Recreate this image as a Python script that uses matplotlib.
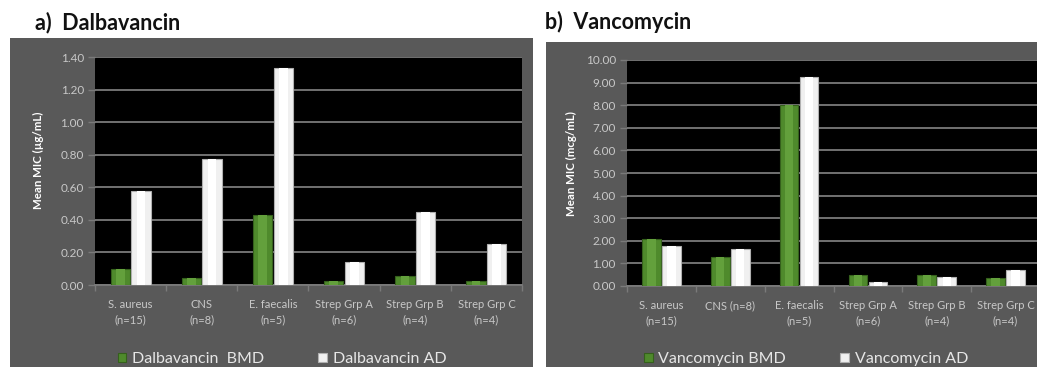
import numpy as np
import matplotlib.pyplot as plt
from matplotlib.patches import Rectangle

# ── data ──────────────────────────────────────────────────────────
dal_labels = ["S. aureus\n(n=15)", "CNS\n(n=8)", "E. faecalis\n(n=5)",
              "Strep Grp A\n(n=6)", "Strep Grp B\n(n=4)", "Strep Grp C\n(n=4)"]
dal_bmd = [0.10, 0.045, 0.43, 0.025, 0.055, 0.025]
dal_ad = [0.58, 0.775, 1.33, 0.14, 0.45, 0.25]
dal_yticks = [0.0, 0.2, 0.4, 0.6, 0.8, 1.0, 1.2, 1.4]

van_labels = ["S. aureus\n(n=15)", "CNS (n=8)", "E. faecalis\n(n=5)",
              "Strep Grp A\n(n=6)", "Strep Grp B\n(n=4)", "Strep Grp C\n(n=4)"]
van_bmd = [2.10, 1.27, 8.02, 0.47, 0.47, 0.35]
van_ad = [1.78, 1.65, 9.25, 0.18, 0.40, 0.69]
van_yticks = [0, 1, 2, 3, 4, 5, 6, 7, 8, 9, 10]

# ── style ─────────────────────────────────────────────────────────
PANEL = "#595959"
PLOT = "#000000"
GRID = "#7a7a7a"
TICK = "#c8c8c8"
GREEN = "#4f8a2c"
GREEN_EDGE = "#35601c"
WHITE = "#f0f0f0"
WHITE_EDGE = "#b0b0b0"

plt.rcParams["font.family"] = ["Lato", "DejaVu Sans"]

W, H = 1037, 377
fig = plt.figure(figsize=(W / 100, H / 100), dpi=100, facecolor="white")


def px_rect(x0, y0, x1, y1):
    """pixel box (top-left origin) -> figure fraction rect"""
    return [x0 / W, 1 - y1 / H, (x1 - x0) / W, (y1 - y0) / H]


def panel(bg_box, ax_box, title, title_xy, labels, bmd, ad, yticks,
          ylabel, ylabel_xy, names, leg_xy, colsp):
    # grey card behind the chart
    r = px_rect(*bg_box)
    fig.patches.append(Rectangle((r[0], r[1]), r[2], r[3], transform=fig.transFigure,
                                 facecolor=PANEL, edgecolor="none", zorder=-1))
    fig.text(title_xy[0] / W, 1 - title_xy[1] / H, title, fontsize=15.5,
             weight="bold", color="#111111", ha="left", va="center")

    ax = fig.add_axes(px_rect(*ax_box))
    ax.set_facecolor(PLOT)
    x = np.arange(len(labels))
    bw = 0.27
    b1 = ax.bar(x - bw / 2 - 0.01, bmd, bw, color=GREEN, edgecolor=GREEN_EDGE,
                linewidth=0.8, zorder=3, label=names[0])
    b2 = ax.bar(x + bw / 2 + 0.01, ad, bw, color=WHITE, edgecolor=WHITE_EDGE,
                linewidth=0.8, zorder=3, label=names[1])
    # lighter centre strip for the bevelled look
    ax.bar(x - bw / 2 - 0.01, bmd, bw * 0.45, color="#63a03c", linewidth=0, zorder=4)
    ax.bar(x + bw / 2 + 0.01, ad, bw * 0.45, color="#ffffff", linewidth=0, zorder=4)

    ax.set_xlim(-0.5, len(labels) - 0.5)
    ax.set_ylim(yticks[0], yticks[-1])
    ax.set_yticks(yticks)
    ax.set_yticklabels([f"{v:.2f}" for v in yticks])
    ax.yaxis.grid(True, color=GRID, linewidth=1.3, zorder=1)
    ax.set_axisbelow(True)

    ax.set_xticks(x)
    ax.set_xticklabels(labels, fontsize=8, color=TICK, linespacing=1.45)
    ax.set_xticks(np.arange(len(labels) + 1) - 0.5, minor=True)
    ax.tick_params(axis="x", which="major", length=0, pad=10)
    ax.tick_params(axis="x", which="minor", length=4, color=GRID, width=1)
    ax.tick_params(axis="y", labelsize=8.5, labelcolor=TICK, color=GRID,
                   length=5, width=1, pad=3)
    for s in ["top", "right", "left"]:
        ax.spines[s].set_visible(False)
    ax.spines["bottom"].set_color(GRID)
    ax.spines["bottom"].set_linewidth(1.3)

    fig.text(ylabel_xy[0] / W, 1 - ylabel_xy[1] / H, ylabel,
             rotation=90, fontsize=8.3, weight="bold", color="white",
             ha="center", va="center")

    ax.legend(handles=[b1, b2], loc="center", ncol=2, frameon=False,
              bbox_to_anchor=(leg_xy[0] / W, 1 - leg_xy[1] / H),
              bbox_transform=fig.transFigure, fontsize=11.5,
              handlelength=0.55, handleheight=0.55, handletextpad=0.35,
              columnspacing=colsp, labelcolor="#e6e6e6")
    return ax


panel((10, 38, 533, 367), (95, 57, 522, 285), "a)  Dalbavancin", (35, 23),
      dal_labels, dal_bmd, dal_ad, dal_yticks, "Mean MIC (\u00b5g/mL)", (38, 160),
      ["Dalbavancin  BMD", "Dalbavancin AD"], (282, 359), 3.4)

panel((546, 42, 1037, 367), (627, 60, 1040, 286), "b)  Vancomycin", (545, 22),
      van_labels, van_bmd, van_ad, van_yticks, "Mean MIC (mcg/mL)", (571, 164),
      ["Vancomycin BMD", "Vancomycin AD"], (806, 359), 3.4)

fig.savefig("out.png", dpi=100, facecolor="white")
